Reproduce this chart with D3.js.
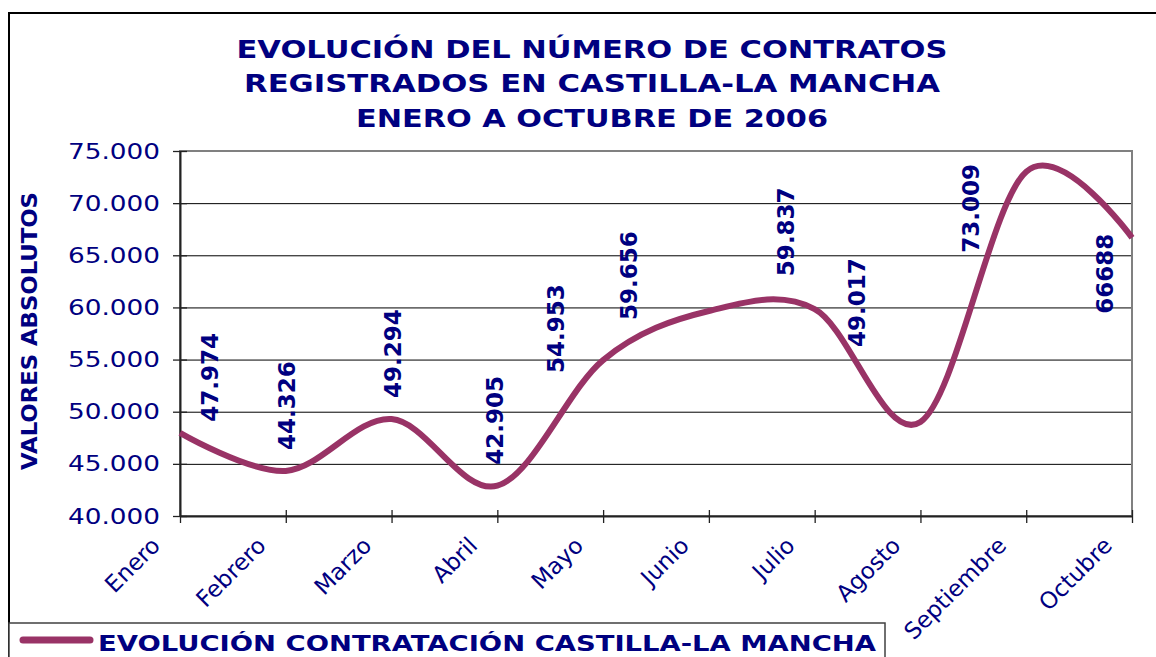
<!DOCTYPE html>
<html>
<head>
<meta charset="utf-8">
<title>Evolución contratos Castilla-La Mancha 2006</title>
<style>
  body { margin: 0; background: #fff; }
  text { font-family: "DejaVu Sans", Verdana, sans-serif; fill: #000080; }
</style>
</head>
<body>
<div id="chart"></div>
<script src="https://cdn.jsdelivr.net/npm/d3@7/dist/d3.min.js"></script>
<script>
// datos
var meses = ['Enero', 'Febrero', 'Marzo', 'Abril', 'Mayo', 'Junio', 'Julio', 'Agosto', 'Septiembre', 'Octubre'];
var contratos = [47974, 44326, 49294, 42905, 54953, 59656, 59837, 49017, 73009, 66688];
var etiquetas = ['47.974', '44.326', '49.294', '42.905', '54.953', '59.656', '59.837', '49.017', '73.009', '66688'];
var ticksY = [40000, 45000, 50000, 55000, 60000, 65000, 70000, 75000];
var titulo = ['EVOLUCIÓN DEL NÚMERO DE CONTRATOS', 'REGISTRADOS EN CASTILLA-LA MANCHA', 'ENERO A OCTUBRE DE 2006'];
var serie = 'EVOLUCIÓN CONTRATACIÓN CASTILLA-LA MANCHA';

// las etiquetas estaban movidas a mano en el original: desplazamiento en px desde el punto
var desplaz = [[38, -11], [9, -21], [9, -21], [6, -21], [-39, 13], [-72, 9], [-21, -33], [-55, -75], [-47, 81], [-19, 76]];

var W = 1156, H = 657;
var pLeft = 180, pRight = 1132, pTop = 151, pBottom = 516;
var color = '#993366';

var es = d3.formatLocale({ decimal: ',', thousands: '.', grouping: [3], currency: ['', '€'] });

var svg = d3.select('#chart').append('svg').attr('width', W).attr('height', H);
svg.append('rect').attr('width', W).attr('height', H).attr('fill', '#fff');

// marco exterior
svg.append('rect').attr('x', 9).attr('y', 13).attr('width', W + 20).attr('height', H + 20)
  .attr('fill', 'none').attr('stroke', '#000').attr('stroke-width', 2);

// titulo (el original usa letra ancha: se estira al ancho medido)
var tl = [711, 696, 472];
svg.selectAll('.titulo').data(titulo).enter().append('text')
  .attr('class', 'titulo')
  .attr('x', 592).attr('y', function (d, i) { return [58, 92, 127][i]; })
  .attr('text-anchor', 'middle')
  .attr('font-size', 25).attr('font-weight', 'bold')
  .attr('textLength', function (d, i) { return tl[i]; })
  .attr('lengthAdjust', 'spacingAndGlyphs')
  .text(function (d) { return d; });

var x = d3.scalePoint().domain(meses).range([pLeft, pRight]);
var y = d3.scaleLinear().domain([40000, 75000]).range([pBottom, pTop]);

// rejilla
svg.append('g').attr('transform', 'translate(' + pLeft + ',0)')
  .call(d3.axisLeft(y).tickValues(ticksY.slice(1, -1)).tickSize(-(pRight - pLeft)).tickFormat(''))
  .call(function (g) {
    g.select('.domain').remove();
    g.selectAll('.tick line').attr('stroke', '#000').attr('stroke-width', 1);
  });

// borde del area de trazado
svg.append('rect').attr('x', pLeft).attr('y', pTop).attr('width', pRight - pLeft).attr('height', pBottom - pTop)
  .attr('fill', 'none').attr('stroke', '#808080').attr('stroke-width', 2);

// eje Y
svg.append('g').attr('transform', 'translate(' + pLeft + ',0)')
  .call(d3.axisLeft(y).tickValues(ticksY).tickSize(7).tickSizeOuter(0).tickPadding(13).tickFormat(es.format(',d')))
  .call(function (g) {
    g.select('.domain').attr('stroke', '#222').attr('stroke-width', 2);
    g.selectAll('.tick line').attr('x1', 7).attr('stroke', '#222').attr('stroke-width', 1.3);
    g.selectAll('.tick text').attr('font-size', 22)
      .attr('textLength', 92).attr('lengthAdjust', 'spacingAndGlyphs')
      .attr('font-family', '"DejaVu Sans", Verdana, sans-serif').attr('fill', '#000080');
  });

// eje X
svg.append('g').attr('transform', 'translate(0,' + pBottom + ')')
  .call(d3.axisBottom(x).tickSize(7).tickSizeOuter(0))
  .call(function (g) {
    g.select('.domain').attr('stroke', '#222').attr('stroke-width', 2);
    g.selectAll('.tick line').attr('y1', -6).attr('stroke', '#222').attr('stroke-width', 1.3);
    g.selectAll('.tick text')
      .attr('x', null).attr('y', null).attr('dy', null)
      .attr('text-anchor', 'end')
      .attr('transform', 'translate(-19,31) rotate(-45)')
      .attr('font-size', 23)
      .attr('font-family', '"DejaVu Sans", Verdana, sans-serif').attr('fill', '#000080');
  });

// titulo eje Y
svg.append('text')
  .attr('transform', 'translate(37,331) rotate(-90)')
  .attr('text-anchor', 'middle')
  .attr('font-size', 21).attr('font-weight', 'bold')
  .attr('textLength', 278).attr('lengthAdjust', 'spacingAndGlyphs')
  .text('VALORES ABSOLUTOS');

// linea suavizada (como el suavizado de Excel)
var linea = d3.line()
  .x(function (d, i) { return x(meses[i]); })
  .y(function (d) { return y(d); })
  .curve(d3.curveCardinal.tension(0));

svg.append('path').datum(contratos)
  .attr('d', linea)
  .attr('fill', 'none').attr('stroke', color).attr('stroke-width', 6)
  .attr('stroke-linejoin', 'round');

// etiquetas de datos
svg.selectAll('.etiqueta').data(contratos).enter().append('text')
  .attr('class', 'etiqueta')
  .attr('transform', function (d, i) {
    return 'translate(' + (x(meses[i]) + desplaz[i][0]) + ',' + (y(d) + desplaz[i][1]) + ') rotate(-90)';
  })
  .attr('font-size', 23).attr('font-weight', 'bold')
  .text(function (d, i) { return etiquetas[i]; });

// leyenda
var ley = svg.append('g');
ley.append('rect').attr('x', 9).attr('y', 623).attr('width', 876).attr('height', 50)
  .attr('fill', '#fff').attr('stroke', '#404040').attr('stroke-width', 1.5);
ley.append('line').attr('x1', 23).attr('x2', 90).attr('y1', 640).attr('y2', 640)
  .attr('stroke', color).attr('stroke-width', 7).attr('stroke-linecap', 'round');
ley.append('text').attr('x', 98).attr('y', 651)
  .attr('font-size', 22).attr('font-weight', 'bold')
  .attr('textLength', 778).attr('lengthAdjust', 'spacingAndGlyphs')
  .text(serie);
</script>
</body>
</html>
